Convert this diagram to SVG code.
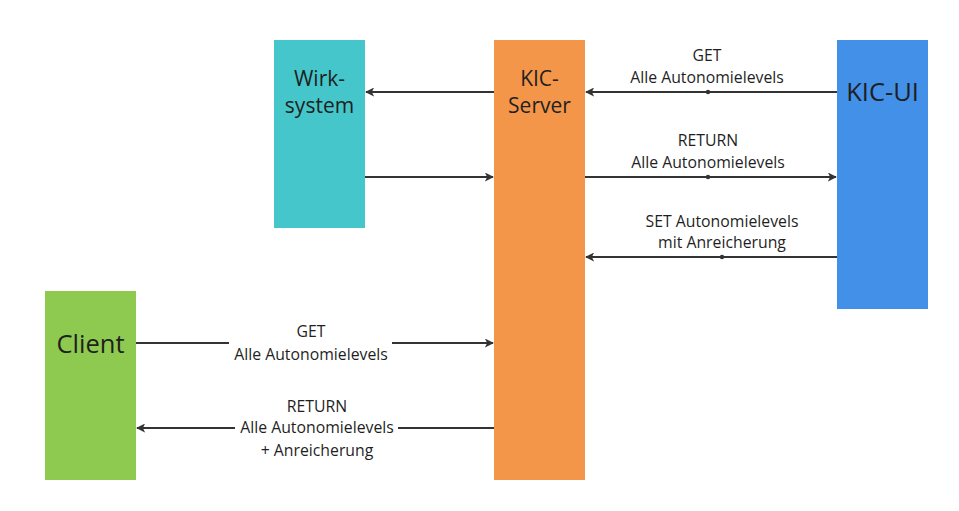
<svg xmlns="http://www.w3.org/2000/svg" width="959" height="511" viewBox="0 0 959 511">
<style>
text{font-family:"Open Sans","Noto Sans","Liberation Sans",sans-serif;fill:#1f1f1f;text-anchor:middle}
.lbl{font-size:15.8px}
.n20{font-size:21px}
.n26{font-size:25.5px}
.ln{stroke:#333;stroke-width:2;fill:none}
.dot{fill:#333}
</style>
<defs>
<marker id="ah" viewBox="0 0 10 10" refX="9" refY="5" markerWidth="4.5" markerHeight="4.5" orient="auto" markerUnits="strokeWidth">
<path d="M0,0 L10,5 L0,10 L2.5,5 Z" fill="#333"/>
</marker>
</defs>
<rect width="959" height="511" fill="#fff"/>
<g id="wirksystem">
<rect x="274" y="40" width="91" height="188" fill="#45C6CA"/>
<text class="n20" x="319.5" y="86">Wirk-</text>
<text class="n20" x="319.5" y="113">system</text>
</g>
<g id="kic-server">
<rect x="494" y="40" width="91" height="440" fill="#F4964A"/>
<text class="n20" x="539.5" y="86">KIC-</text>
<text class="n20" x="539.5" y="113">Server</text>
</g>
<g id="kic-ui">
<rect x="837" y="40" width="91" height="269" fill="#4390E8"/>
<text class="n26" x="882.5" y="101">KIC-UI</text>
</g>
<g id="client">
<rect x="45" y="291" width="91" height="189" fill="#8ECA50"/>
<text class="n26" x="90.5" y="353">Client</text>
</g>
<g id="connectors">
<line class="ln" x1="494" y1="92" x2="366" y2="92" marker-end="url(#ah)"/>
<line class="ln" x1="365" y1="177" x2="493" y2="177" marker-end="url(#ah)"/>
<line class="ln" x1="837" y1="92" x2="586" y2="92" marker-end="url(#ah)"/>
<circle class="dot" cx="708" cy="92" r="2.2"/>
<text class="lbl" x="707" y="61">GET</text>
<text class="lbl" x="707" y="83">Alle Autonomielevels</text>
<line class="ln" x1="585" y1="177" x2="836" y2="177" marker-end="url(#ah)"/>
<circle class="dot" cx="708" cy="177" r="2.2"/>
<text class="lbl" x="708" y="146">RETURN</text>
<text class="lbl" x="708" y="168">Alle Autonomielevels</text>
<line class="ln" x1="837" y1="257" x2="586" y2="257" marker-end="url(#ah)"/>
<circle class="dot" cx="722" cy="257" r="2.2"/>
<text class="lbl" x="722" y="227">SET Autonomielevels</text>
<text class="lbl" x="722" y="248">mit Anreicherung</text>
<line class="ln" x1="136" y1="343" x2="229" y2="343"/>
<line class="ln" x1="392" y1="343" x2="493" y2="343" marker-end="url(#ah)"/>
<text class="lbl" x="311" y="337">GET</text>
<text class="lbl" x="311" y="360">Alle Autonomielevels</text>
<line class="ln" x1="494" y1="428" x2="398" y2="428"/>
<line class="ln" x1="235" y1="428" x2="137" y2="428" marker-end="url(#ah)"/>
<text class="lbl" x="317" y="412">RETURN</text>
<text class="lbl" x="317" y="433">Alle Autonomielevels</text>
<text class="lbl" x="317" y="456">+ Anreicherung</text>
</g>
</svg>
